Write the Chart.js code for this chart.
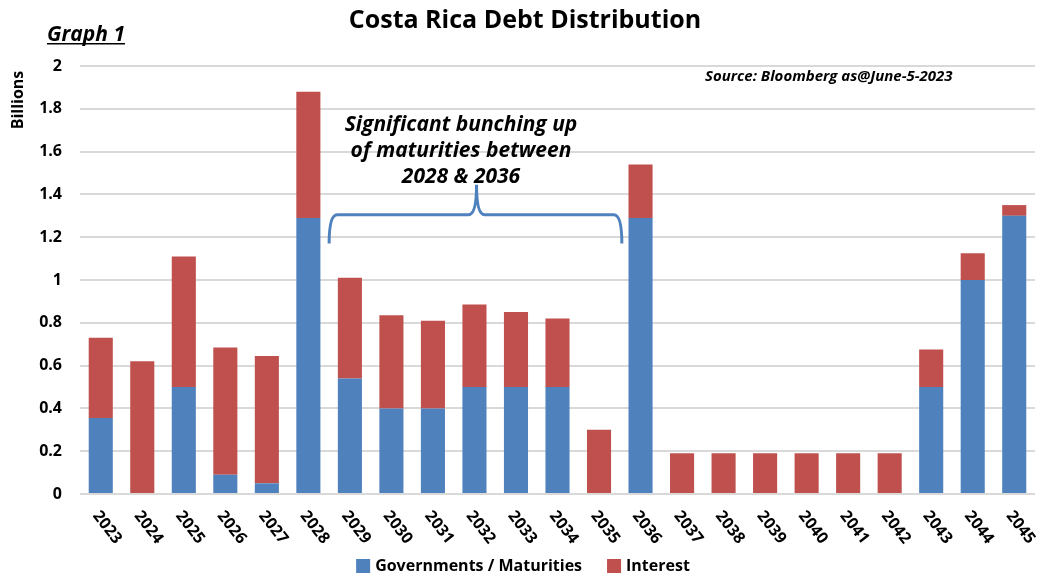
<!DOCTYPE html>
<html>
<head>
<meta charset="utf-8">
<script src="https://cdn.jsdelivr.net/npm/chart.js@4.4.0/dist/chart.umd.min.js"></script>
<style>
body { margin: 0; background: #fff; }
#wrap { width: 1042px; height: 576px; }
</style>
</head>
<body>
<div id="wrap"><canvas id="g_debt"></canvas></div>
<script>
// donnees (milliards)
const years = ["2023","2024","2025","2026","2027","2028","2029","2030","2031","2032","2033","2034",
               "2035","2036","2037","2038","2039","2040","2041","2042","2043","2044","2045"];
const govMaturities = [0.355, 0, 0.5, 0.09, 0.05, 1.29, 0.54, 0.4, 0.4, 0.5, 0.5, 0.5,
                       0, 1.29, 0, 0, 0, 0, 0, 0, 0.5, 1.0, 1.3];
const interest = [0.375, 0.62, 0.61, 0.595, 0.595, 0.59, 0.47, 0.435, 0.41, 0.385, 0.35, 0.32,
                  0.30, 0.25, 0.19, 0.19, 0.19, 0.19, 0.19, 0.19, 0.175, 0.125, 0.05];
const seriesNames = ["Governments / Maturities", "Interest"];
const yMin = 0, yMax = 2, yStep = 0.2;

// accolade : indices de categories et valeurs en milliards
const braceFrom = 5.5, braceTo = 12.55, braceMid = 9.05;
const braceEnd = 1.17, braceBar = 1.305, braceTip = 1.445;
const noteLines = ["Significant bunching up", "of maturities between", "2028 & 2036"];

const BLUE = '#4F81BD';
const RED = '#C0504D';
const FONT = "'Open Sans', 'Noto Sans', sans-serif";

// textes, etiquettes inclinees, accolade et legende
const decorations = {
    id: 'decorations',
    afterDraw(chart) {
        const c = chart.ctx;
        const x = chart.scales.x;
        const y = chart.scales.y;
        const area = chart.chartArea;
        c.save();
        c.fillStyle = '#000';

        // titre
        c.font = "bold 25px " + FONT;
        c.textAlign = 'center';
        c.textBaseline = 'middle';
        c.fillText("Costa Rica Debt Distribution", 525, 21);

        // Graph 1
        c.font = "italic bold 21px " + FONT;
        c.textAlign = 'left';
        c.textBaseline = 'alphabetic';
        c.fillText("Graph 1", 47, 41);
        const w = c.measureText("Graph 1").width;
        c.fillRect(47, 43, w, 1.5);

        // Billions
        c.save();
        c.translate(18, 100);
        c.rotate(-Math.PI / 2);
        c.font = "bold 16px " + FONT;
        c.textAlign = 'center';
        c.textBaseline = 'middle';
        c.fillText("Billions", 0, 0);
        c.restore();

        // source
        c.font = "italic bold 15px " + FONT;
        c.textAlign = 'left';
        c.textBaseline = 'middle';
        c.fillText("Source: Bloomberg as@June-5-2023", 705, 77);

        // note
        c.font = "italic bold 21px " + FONT;
        c.textAlign = 'center';
        noteLines.forEach((t, i) => c.fillText(t, 461, 125 + i * 26));

        // accolade
        const x0 = x.getPixelForValue(braceFrom), x1 = x.getPixelForValue(braceTo);
        const xm = x.getPixelForValue(braceMid);
        const yE = y.getPixelForValue(braceEnd), yB = y.getPixelForValue(braceBar), yT = y.getPixelForValue(braceTip);
        const r = 8;
        c.strokeStyle = BLUE;
        c.lineWidth = 3;
        c.beginPath();
        c.moveTo(x0, yE);
        c.quadraticCurveTo(x0, yB, x0 + r, yB);
        c.lineTo(xm - r, yB);
        c.quadraticCurveTo(xm, yB, xm, yT);
        c.quadraticCurveTo(xm, yB, xm + r, yB);
        c.lineTo(x1 - r, yB);
        c.quadraticCurveTo(x1, yB, x1, yE);
        c.stroke();

        // etiquettes de l'axe x
        c.font = "bold 16px " + FONT;
        c.textAlign = 'left';
        c.textBaseline = 'middle';
        years.forEach((lab, i) => {
            const px = x.getPixelForTick(i);
            c.save();
            c.translate(px - 5, area.bottom + 19);
            c.rotate(52 * Math.PI / 180);
            c.fillText(lab, 0, 0);
            c.restore();
        });

        // legende
        c.font = "bold 16px " + FONT;
        const box = 14, gap = 5, between = 25;
        const items = chart.data.datasets.map(d => ({ text: d.label, color: d.backgroundColor, w: c.measureText(d.label).width }));
        let total = 0;
        items.forEach((it, i) => { total += box + gap + it.w + (i ? between : 0); });
        let lx = 523 - total / 2;
        const ly = 566;
        items.forEach(it => {
            c.fillStyle = it.color;
            c.fillRect(lx, ly - box / 2, box, box);
            c.fillStyle = '#000';
            c.fillText(it.text, lx + box + gap, ly);
            lx += box + gap + it.w + between;
        });
        c.restore();
    }
};

const ctx = document.getElementById("g_debt").getContext("2d");
const conData = {
    labels: years,
    datasets: [
        { label: seriesNames[0], data: govMaturities, backgroundColor: BLUE },
        { label: seriesNames[1], data: interest, backgroundColor: RED }
    ]
};
const options = {
    responsive: true,
    maintainAspectRatio: false,
    animation: false,
    layout: { padding: { top: 66, right: 7, left: 0, bottom: 32 } },
    datasets: { bar: { barPercentage: 0.58, categoryPercentage: 1 } },
    scales: {
        x: {
            stacked: true,
            grid: { display: false },
            border: { display: false },
            ticks: { display: false },
            afterFit(s) { s.height = 50; }
        },
        y: {
            stacked: true,
            min: yMin, max: yMax,
            ticks: {
                stepSize: yStep, color: '#000', padding: 18,
                font: { family: FONT, size: 16, weight: 'bold' },
                callback: v => String(Number(v.toFixed(1)))
            },
            grid: { color: '#d9d9d9', lineWidth: 2, drawTicks: false },
            border: { display: false },
            afterFit(s) { s.width = 80; }
        }
    },
    plugins: {
        legend: { display: false },
        tooltip: { enabled: false }
    }
};
new Chart(ctx, { type: 'bar', data: conData, options: options, plugins: [decorations] });
</script>
</body>
</html>
